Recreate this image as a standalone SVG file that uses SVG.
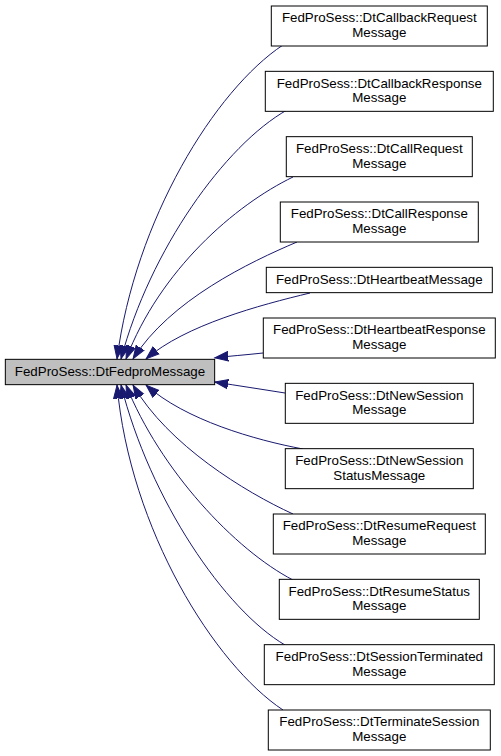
<svg xmlns="http://www.w3.org/2000/svg" width="501" height="756" viewBox="0 0 501 756">
<style>
.n rect{fill:#ffffff;stroke:#000000;stroke-width:1}
.n.main rect{fill:#bfbfbf}
.n text{font-family:"Liberation Sans",Arial,Helvetica,sans-serif;font-size:13.33px;fill:#000000;text-anchor:middle}
.e path{fill:none;stroke:#191970;stroke-width:1;marker-end:url(#ah)}
</style>
<defs>
<marker id="ah" markerUnits="userSpaceOnUse" viewBox="0 -6 15 12" markerWidth="15" markerHeight="12" refX="13.5" refY="0" orient="auto">
<path d="M0,-4.7 L13.3,0 L0,4.7 Z" fill="#191970" stroke="#191970" stroke-width="1"/>
</marker>
</defs>
<rect width="501" height="756" fill="#ffffff"/>
<g id="edges" class="e">
<path d="M283,45 C215,90 135,220 117,359"/>
<path d="M287,110 C225,145 150,250 121,359"/>
<path d="M293,177 C235,205 160,270 126,359"/>
<path d="M297,242 C250,262 170,300 133,359"/>
<path d="M310,293 C260,305 185,325 146,359"/>
<path d="M263,353 C245,355 230,356 214.7,357.8"/>
<path d="M285,393 C260,389 240,386 214.7,382"/>
<path d="M303,449 C255,440 185,420 146,385"/>
<path d="M293,514 C245,492 168,445 133,385"/>
<path d="M293,580 C235,550 160,470 126,385"/>
<path d="M285,645 C225,610 150,500 121,385"/>
<path d="M283,710 C215,665 130,530 117,385"/>
</g>
<g id="node-DtFedproMessage" class="n main">
<rect x="5.33" y="359.33" width="209.33" height="25.33"/>
<text x="110" y="376">FedProSess::DtFedproMessage</text>
</g>
<g id="node-DtCallbackRequestMessage" class="n">
<rect x="271.3" y="6" width="216" height="40"/>
<text x="379.3" y="22.3">FedProSess::DtCallbackRequest</text>
<text x="379.3" y="37">Message</text>
</g>
<g id="node-DtCallbackResponseMessage" class="n">
<rect x="265.3" y="71.33" width="228" height="40"/>
<text x="379.3" y="87.6">FedProSess::DtCallbackResponse</text>
<text x="379.3" y="102.3">Message</text>
</g>
<g id="node-DtCallRequestMessage" class="n">
<rect x="286.3" y="136.67" width="186" height="40"/>
<text x="379.3" y="153">FedProSess::DtCallRequest</text>
<text x="379.3" y="167.7">Message</text>
</g>
<g id="node-DtCallResponseMessage" class="n">
<rect x="280.3" y="202" width="198" height="40"/>
<text x="379.3" y="218.3">FedProSess::DtCallResponse</text>
<text x="379.3" y="233">Message</text>
</g>
<g id="node-DtHeartbeatMessage" class="n">
<rect x="266.3" y="267.33" width="226" height="25.33"/>
<text x="379.3" y="284">FedProSess::DtHeartbeatMessage</text>
</g>
<g id="node-DtHeartbeatResponseMessage" class="n">
<rect x="263.3" y="318" width="232" height="40"/>
<text x="379.3" y="334.3">FedProSess::DtHeartbeatResponse</text>
<text x="379.3" y="349">Message</text>
</g>
<g id="node-DtNewSessionMessage" class="n">
<rect x="285.3" y="383.33" width="188" height="40"/>
<text x="379.3" y="399.6">FedProSess::DtNewSession</text>
<text x="379.3" y="414.3">Message</text>
</g>
<g id="node-DtNewSessionStatusMessage" class="n">
<rect x="285.3" y="448.67" width="188" height="40"/>
<text x="379.3" y="465">FedProSess::DtNewSession</text>
<text x="379.3" y="479.7">StatusMessage</text>
</g>
<g id="node-DtResumeRequestMessage" class="n">
<rect x="273.3" y="514" width="212" height="40"/>
<text x="379.3" y="530.3">FedProSess::DtResumeRequest</text>
<text x="379.3" y="545">Message</text>
</g>
<g id="node-DtResumeStatusMessage" class="n">
<rect x="279.3" y="579.33" width="200" height="40"/>
<text x="379.3" y="595.6">FedProSess::DtResumeStatus</text>
<text x="379.3" y="610.3">Message</text>
</g>
<g id="node-DtSessionTerminatedMessage" class="n">
<rect x="264.3" y="644.67" width="230" height="40"/>
<text x="379.3" y="661">FedProSess::DtSessionTerminated</text>
<text x="379.3" y="675.7">Message</text>
</g>
<g id="node-DtTerminateSessionMessage" class="n">
<rect x="268.3" y="710" width="222" height="40"/>
<text x="379.3" y="726.3">FedProSess::DtTerminateSession</text>
<text x="379.3" y="741">Message</text>
</g>
</svg>
